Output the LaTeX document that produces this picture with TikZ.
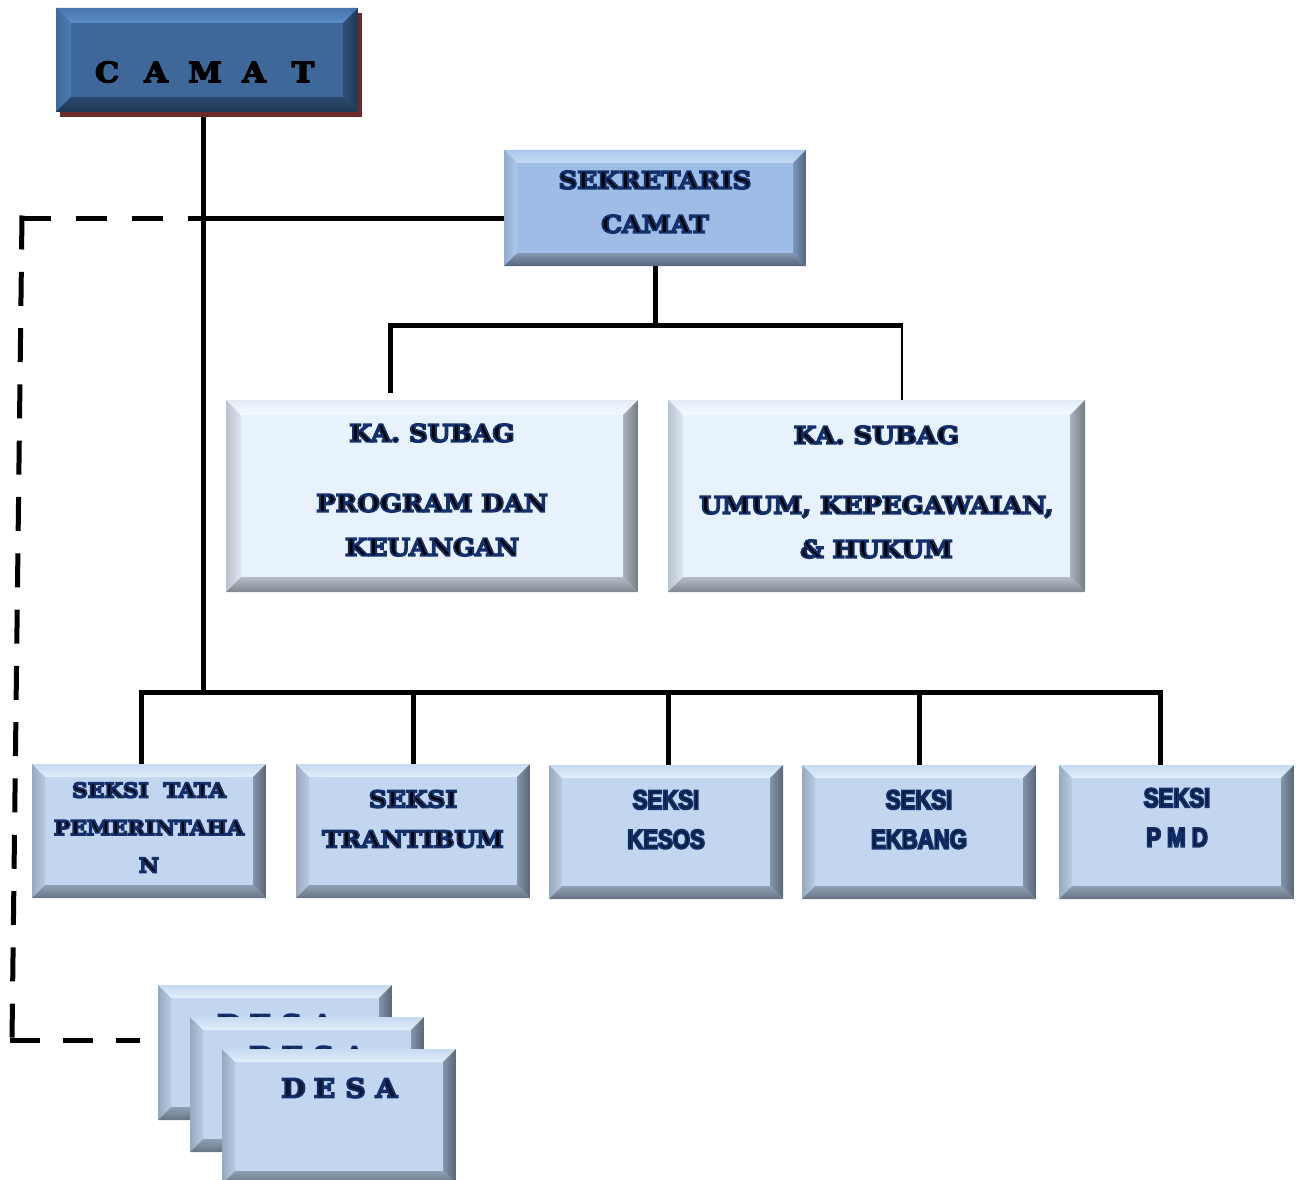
\documentclass[tikz,border=0pt]{standalone}
\usepackage{fontspec}
\setmainfont{DejaVu Serif}
\newfontfamily\serifb[FakeStretch=1.08]{DejaVu Serif Bold}
\newfontfamily\sansn[FakeStretch=0.82]{Liberation Sans Bold}
\usetikzlibrary{shadows}
\pgfdeclarelayer{bg}
\pgfsetlayers{bg,main}

\definecolor{camF}{HTML}{3D6899}
\definecolor{camT1}{HTML}{4674AA}\definecolor{camT2}{HTML}{5E8EC8}
\definecolor{camL1}{HTML}{3F6B9E}\definecolor{camL2}{HTML}{4D7BB2}
\definecolor{camR1}{HTML}{1F3856}\definecolor{camR2}{HTML}{2F5077}
\definecolor{camB1}{HTML}{1E3450}\definecolor{camB2}{HTML}{2C4B70}
\definecolor{camS}{HTML}{6B2B2B}

\definecolor{sekF}{HTML}{9DBDE6}
\definecolor{sekT1}{HTML}{A9C7EE}\definecolor{sekT2}{HTML}{C6DCF6}
\definecolor{sekL1}{HTML}{8FABCF}\definecolor{sekL2}{HTML}{ADC8EA}
\definecolor{sekR1}{HTML}{4F6482}\definecolor{sekR2}{HTML}{7E98BA}
\definecolor{sekB1}{HTML}{56667C}\definecolor{sekB2}{HTML}{8499B4}

\definecolor{subF}{HTML}{E8F2FD}
\definecolor{subT1}{HTML}{E2ECF6}\definecolor{subT2}{HTML}{F7FBFF}
\definecolor{subL1}{HTML}{B9C3CE}\definecolor{subL2}{HTML}{DDE7F2}
\definecolor{subR1}{HTML}{767C84}\definecolor{subR2}{HTML}{AAB2BC}
\definecolor{subB1}{HTML}{80868E}\definecolor{subB2}{HTML}{B5BDC7}

\definecolor{seF}{HTML}{C2D7EF}
\definecolor{seT1}{HTML}{C6DAF1}\definecolor{seT2}{HTML}{E2EEFA}
\definecolor{seL1}{HTML}{97A9BE}\definecolor{seL2}{HTML}{B8CBE1}
\definecolor{seR1}{HTML}{5A6676}\definecolor{seR2}{HTML}{8395AB}
\definecolor{seB1}{HTML}{687484}\definecolor{seB2}{HTML}{8FA0B5}

\definecolor{navy}{HTML}{0A1530}

\newcommand\bevelpic[5]{%
  \path (path picture bounding box.north west) coordinate (bNW)
        (path picture bounding box.north east) coordinate (bNE)
        (path picture bounding box.south west) coordinate (bSW)
        (path picture bounding box.south east) coordinate (bSE);
  \path ([xshift=#1,yshift=-#1]bNW) coordinate (iNW)
        ([xshift=-#1,yshift=-#1]bNE) coordinate (iNE)
        ([xshift=#1,yshift=#1]bSW) coordinate (iSW)
        ([xshift=-#1,yshift=#1]bSE) coordinate (iSE);
  \path[#2] (bNW) -- (bNE) -- (iNE) -- (iNW) -- cycle;
  \path[#3] (bNW) -- (iNW) -- (iSW) -- (bSW) -- cycle;
  \path[#4] (bNE) -- (bSE) -- (iSE) -- (iNE) -- cycle;
  \path[#5] (bSW) -- (iSW) -- (iSE) -- (bSE) -- cycle;
}
% heavy text with a dark-blue outline (glow), drawn once
\newcommand\gl[1]{\special{pdf:literal direct 2 Tr 1.9 w 0.08 0.19 0.42 RG}#1\special{pdf:literal direct 0 Tr}}
% heavy black text
\newcommand\heavy[1]{\special{pdf:literal direct 2 Tr 1.4 w 0 0 0 RG}#1\special{pdf:literal direct 0 Tr}}
\newcommand\spc[2]{\makebox[#1]{#2}}

\begin{document}
\begin{tikzpicture}[x=1pt,y=-1pt,
  camatbox/.style={inner sep=0pt, minimum width=302pt, minimum height=104pt, fill=camF,
    drop shadow={shadow xshift=4pt, shadow yshift=-5pt, fill=camS, opacity=1},
    path picture={\bevelpic{15pt}{top color=camT1,bottom color=camT2}{left color=camL1,right color=camL2}{left color=camR2,right color=camR1}{top color=camB2,bottom color=camB1}}},
  sekbox/.style={inner sep=0pt, minimum width=302pt, minimum height=116pt, fill=sekF,
    path picture={\bevelpic{13pt}{top color=sekT1,bottom color=sekT2}{left color=sekL1,right color=sekL2}{left color=sekR2,right color=sekR1}{top color=sekB2,bottom color=sekB1}}},
  subbox/.style={inner sep=0pt, minimum height=192pt, fill=subF,
    path picture={\bevelpic{15pt}{top color=subT1,bottom color=subT2}{left color=subL1,right color=subL2}{left color=subR2,right color=subR1}{top color=subB2,bottom color=subB1}}},
  seksibox/.style={inner sep=0pt, minimum width=234pt, minimum height=134pt, fill=seF,
    path picture={\bevelpic{13pt}{top color=seT1,bottom color=seT2}{left color=seL1,right color=seL2}{left color=seR2,right color=seR1}{top color=seB2,bottom color=seB1}}},
  serift/.style={inner sep=0pt, align=center, text=black, font=\serifb\fontsize{24}{44}\selectfont},
  seksiserif/.style={inner sep=0pt, align=center, text=black, font=\serifb\fontsize{23}{40}\selectfont},
  tataserif/.style={inner sep=0pt, align=center, text=black, font=\serifb\fontsize{20}{37.5}\selectfont},
  sanst/.style={inner sep=0pt, align=center, text=navy, font=\sansn\fontsize{27}{39.5}\selectfont},
  camatt/.style={inner sep=0pt, text=black, font=\serifb\fontsize{28}{30}\selectfont},
  desat/.style={inner sep=0pt, text=navy, font=\serifb\fontsize{26}{30}\selectfont},
  conn/.style={line width=5pt, black},
  thinconn/.style={line width=2pt, black},
  dashtop/.style={line width=5pt, black, dash pattern=on 31pt off 25pt},
  dashvert/.style={line width=5pt, black, dash pattern=on 34pt off 22.3pt},
  dashbot/.style={line width=5pt, black, dash pattern=on 30pt off 23pt}
]
\useasboundingbox (0,0) rectangle (1304,1180);

% ---------- boxes ----------
\node[camatbox] (camat) at (207,60) {};
\node[camatt] (tcamat) at (205,72) {\heavy{\spc{49pt}{C}\spc{49pt}{A}\spc{49pt}{M}\spc{49pt}{A}\spc{49pt}{T}}};

\node[sekbox] (sek) at (655,208) {};
\node[serift] (tsek) at (655,202) {\gl{SEKRETARIS}\\\gl{CAMAT}};

\node[subbox, minimum width=412pt] (sub1) at (432,496) {};
\node[serift] (tsub1) at (432,490) {\gl{KA. SUBAG}\\[26pt]\gl{PROGRAM DAN}\\\gl{KEUANGAN}};

\node[subbox, minimum width=417pt] (sub2) at (876.5,496) {};
\node[serift] (tsub2) at (876.5,492) {\gl{KA. SUBAG}\\[26pt]\gl{UMUM, KEPEGAWAIAN,}\\\gl{\& HUKUM}};

\node[seksibox] (s1) at (149,831) {};
\node[tataserif] (ts1) at (149,827.5) {\gl{SEKSI\ \ TATA}\\\gl{PEMERINTAHA}\\\gl{N}};

\node[seksibox] (s2) at (413,831) {};
\node[seksiserif] (ts2) at (413,819) {\gl{SEKSI}\\\gl{TRANTIBUM}};

\node[seksibox] (s3) at (666,832) {};
\node[sanst] (ts3) at (666,819.5) {\gl{SEKSI}\\\gl{KESOS}};

\node[seksibox] (s4) at (919,832) {};
\node[sanst] (ts4) at (919,819.5) {\gl{SEKSI}\\\gl{EKBANG}};

\node[seksibox, minimum width=235pt] (s5) at (1176.5,832) {};
\node[sanst] (ts5) at (1177,817.5) {\gl{SEKSI}\\\gl{P M D}};

\node[seksibox, minimum height=135pt] (desa1) at (275,1052.5) {};
\node[desat] (tdesa1) at (276,1024) {\gl{\spc{31pt}{D}\spc{31pt}{E}\spc{31pt}{S}\spc{31pt}{A}}};
\node[seksibox, minimum height=135pt] (desa2) at (307,1084.5) {};
\node[desat] (tdesa2) at (308,1056) {\gl{\spc{31pt}{D}\spc{31pt}{E}\spc{31pt}{S}\spc{31pt}{A}}};
\node[seksibox, minimum height=135pt] (desa3) at (339,1116.5) {};
\node[desat] (tdesa3) at (340,1088) {\gl{\spc{31pt}{D}\spc{31pt}{E}\spc{31pt}{S}\spc{31pt}{A}}};

% ---------- connectors ----------
\coordinate (jA) at (203,218);
\coordinate (jS) at (190,218);
\coordinate (jB) at (203,692);
\coordinate (jC) at (655,325);
\coordinate (jL) at (390,325);
\coordinate (jR) at (902,325);
\coordinate (d1) at (141,692);
\coordinate (d2) at (413,692);
\coordinate (d3) at (668,692);
\coordinate (d4) at (919,692);
\coordinate (d5) at (1160,692);
\coordinate (c1) at (22,218);
\coordinate (c2) at (12,1040);
\coordinate (dEnd) at (140,1040);

\begin{pgfonlayer}{bg}
  \draw[conn] (camat.south -| jA) -- (jB);
  \draw[conn] (jS) -- (sek.west |- jS);
  \draw[conn] (sek.south) -- (jC);
  \draw[conn] ([xshift=-2.5pt]jL) -- ([xshift=1pt]jR);
  \draw[conn] (jL) -- ([yshift=7pt]jL |- sub1.north);
  \draw[thinconn] (jR) -- (jR |- sub2.north);
  \draw[conn] ([xshift=-2.5pt]d1) -- ([xshift=2.5pt]d5);
  \draw[conn] (d1) -- (d1 |- s1.north);
  \draw[conn] (d2) -- (d2 |- s2.north);
  \draw[conn] (d3) -- (d3 |- s3.north);
  \draw[conn] (d4) -- (d4 |- s4.north);
  \draw[conn] (d5) -- (d5 |- s5.north);
  \draw[dashtop] ([xshift=-2.5pt]c1) -- (jS);
  \draw[dashvert] ([yshift=2.5pt]c1) -- (c2);
  \draw[dashbot] ([xshift=-2.5pt]c2) -- (dEnd);
\end{pgfonlayer}
\end{tikzpicture}
\end{document}
